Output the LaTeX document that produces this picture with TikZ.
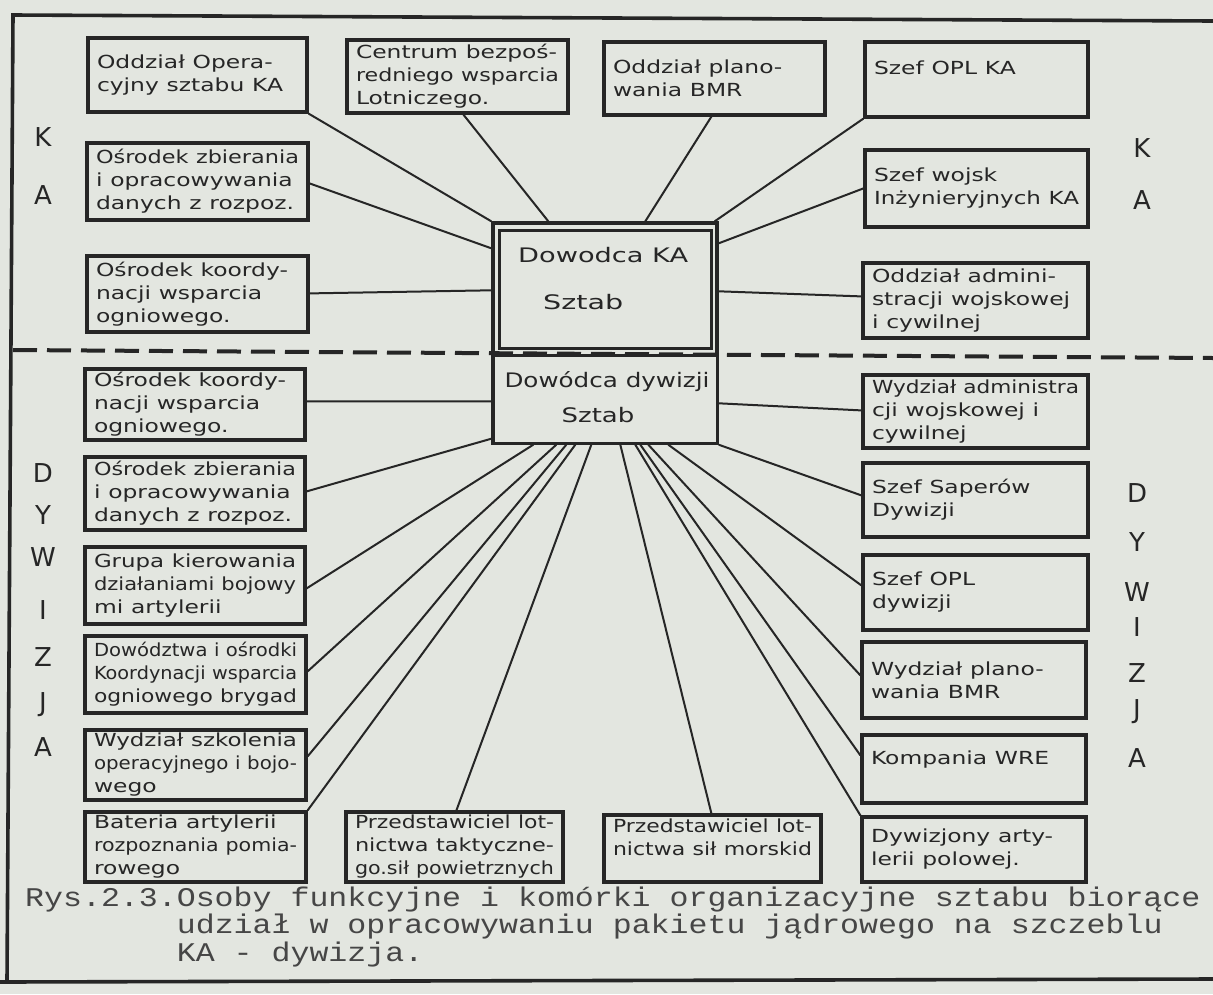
\documentclass[tikz,border=0pt]{standalone}
\usepackage{fontspec}
\usepackage{graphicx}
\setmainfont{DejaVu Sans}
\newfontfamily\handf{DejaVu Sans}
\newfontfamily\typef{Liberation Mono}
\definecolor{bg}{RGB}{227,230,224}
\definecolor{ink}{RGB}{38,38,38}
\definecolor{typeink}{RGB}{70,70,70}
\newsavebox\fitbox
\def\maxw{200}
\newcommand\fl[1]{\sbox\fitbox{#1}\scalebox{\fpeval{min(1.3,\maxw/(\the\wd\fitbox))}}[1]{\usebox\fitbox}}
\newcommand\sx[2]{\scalebox{#1}[1]{#2}}
\tikzset{
  orgbox/.style={draw=ink, line width=3.2pt, inner xsep=9pt, inner ysep=3pt, align=left,
    font=\handf\fontsize{18}{23}\selectfont, text=ink},
  linkline/.style={draw=ink, line width=2pt},
  sidelet/.style={font=\handf\fontsize{26}{26}\selectfont, text=ink, inner sep=0pt},
  framelin/.style={draw=ink, line width=3.6pt},
  sepline/.style={draw=ink, line width=4pt, dash pattern=on 24pt off 10pt},
  captext/.style={font=\typef\fontsize{27}{25.5}\selectfont, text=typeink, inner sep=0pt, anchor=north west, align=left},
  ctext/.style={font=\handf\fontsize{20}{20}\selectfont, text=ink, inner sep=0pt},
}
\newcommand\bx[6]{\edef\maxw{\fpeval{#4-#2-18}}\node[orgbox, minimum width=\fpeval{#4-#2}pt, minimum height=\fpeval{#5-#3}pt,
  text width=\fpeval{#4-#2-18}pt] (#1) at ({(#2+#4)/2},{(#3+#5)/2}) {#6};}
\begin{document}
\begin{tikzpicture}[x=1pt,y=-1pt]
\useasboundingbox (0,0) rectangle (1213,994);
\fill[bg] (0,0) rectangle (1213,994);
% frame
\coordinate (fa) at (13,15);
\coordinate (fb) at (1213,21);
\coordinate (fc) at (7,982);
\coordinate (fe) at (0,982);
\coordinate (fd) at (1213,979);
\draw[framelin] (fb) -- (fa) -- (fc);
\draw[framelin] (fe) -- (fd);
% separator
\coordinate (sa) at (13,350);
\coordinate (sb) at (1213,358);
\draw[sepline] (sa) -- (sb);
% central boxes
\node[draw=ink, line width=3.4pt, minimum width=224pt, minimum height=220pt] (cen) at (605,333) {};
\node[draw=ink, line width=3pt, minimum width=212pt, minimum height=118pt] (cka) at (605,289) {};
\node[draw=ink, line width=3pt, fill=bg, minimum width=224pt, minimum height=88pt] (cdy) at (605,399) {};
\node[ctext, anchor=west] (kat1) at (518,255) {\sx{1.36}{Dowodca KA}};
\node[ctext, anchor=west] (kat2) at (543,302) {\sx{1.43}{Sztab}};
\node[ctext] (dyt1) at (607,382) {\sx{1.23}{Dowódca dywizji}};
\node[ctext] (dyt2) at (598,415) {\sx{1.3}{Sztab}};
% top row
\bx{t1}{88}{38}{307}{112}{\fl{Oddział Opera-}\\\fl{cyjny sztabu KA}}
\bx{t2}{347}{40}{568}{113}{\fl{Centrum bezpoś-}\\\fl{redniego wsparcia}\\\fl{Lotniczego.}}
\bx{t3}{604}{42}{825}{115}{\fl{Oddział plano-}\\\fl{wania BMR}}
\bx{t4}{865}{42}{1088}{117}{\fl{Szef OPL KA}\\\mbox{}}
% upper sides
\bx{l1}{87}{143}{308}{220}{\fl{Ośrodek zbierania}\\\fl{i opracowywania}\\\fl{danych z rozpoz.}}
\bx{l2}{87}{256}{308}{332}{\fl{Ośrodek koordy-}\\\fl{nacji wsparcia}\\\fl{ogniowego.}}
\bx{r1}{865}{150}{1088}{227}{\fl{Szef wojsk}\\\fl{Inżynieryjnych KA}}
\bx{r2}{863}{263}{1088}{338}{\fl{Oddział admini-}\\\fl{stracji wojskowej}\\\fl{i cywilnej}}
% lower left
\bx{l3}{85}{369}{305}{440}{\fl{Ośrodek koordy-}\\\fl{nacji wsparcia}\\\fl{ogniowego.}}
\bx{l4}{85}{457}{305}{530}{\fl{Ośrodek zbierania}\\\fl{i opracowywania}\\\fl{danych z rozpoz.}}
\bx{l5}{85}{547}{305}{624}{\fl{Grupa kierowania}\\\fl{działaniami bojowy}\\\fl{mi artylerii}}
\bx{l6}{85}{636}{306}{713}{\fl{Dowództwa i ośrodki}\\\fl{Koordynacji wsparcia}\\\fl{ogniowego brygad}}
\bx{l7}{85}{730}{306}{800}{\fl{Wydział szkolenia}\\\fl{operacyjnego i bojo-}\\\fl{wego}}
\bx{l8}{85}{812}{306}{882}{\fl{Bateria artylerii}\\\fl{rozpoznania pomia-}\\\fl{rowego}}
% bottom row
\bx{b1}{346}{812}{563}{882}{\fl{Przedstawiciel lot-}\\\fl{nictwa taktyczne-}\\\fl{go.sił powietrznych}}
\bx{b2}{604}{815}{821}{882}{\fl{Przedstawiciel lot-}\\\fl{nictwa sił morskid}\\\mbox{}}
% lower right
\bx{r3}{863}{375}{1088}{448}{\fl{Wydział administra}\\\fl{cji wojskowej i}\\\fl{cywilnej}}
\bx{r4}{863}{463}{1088}{537}{\fl{Szef Saperów}\\\fl{Dywizji}}
\bx{r5}{863}{555}{1088}{630}{\fl{Szef OPL}\\\fl{dywizji}}
\bx{r6}{862}{642}{1086}{718}{\fl{Wydział plano-}\\\fl{wania BMR}}
\bx{r7}{862}{735}{1086}{803}{\fl{Kompania WRE}\\\mbox{}}
\bx{r8}{862}{817}{1086}{882}{\fl{Dywizjony arty-}\\\fl{lerii polowej.}}
% connectors upper
\draw[linkline] (t1.south east) -- (cen.north west);
\draw[linkline] ([xshift=118pt]t2.south west) -- ([xshift=57pt]cen.north west);
\draw[linkline] ([xshift=109pt]t3.south west) -- ([xshift=154pt]cen.north west);
\draw[linkline] (t4.south west) -- ([xshift=-4pt]cen.north east);
\draw[linkline] ([yshift=-42pt]l1.north east) -- ([yshift=-27pt]cen.north west);
\draw[linkline] ([yshift=-39pt]l2.north east) -- ([yshift=-69pt]cen.north west);
\draw[linkline] ([yshift=-40pt]r1.north west) -- ([yshift=-22pt]cen.north east);
\draw[linkline] ([yshift=-35pt]r2.north west) -- ([yshift=-70pt]cen.north east);
% connectors lower
\draw[linkline] ([yshift=-34pt]l3.north east) -- ([yshift=-180pt]cen.north west);
\draw[linkline] ([yshift=-37pt]r3.north west) -- ([yshift=-182pt]cen.north east);
\draw[linkline] ([yshift=-36pt]l4.north east) -- ([yshift=6pt]cen.south west);
\draw[linkline] ([yshift=-34pt]r4.north west) -- (cen.south east);
\draw[linkline] ([yshift=-43pt]l5.north east) -- ([xshift=42pt]cen.south west);
\draw[linkline] ([yshift=-37pt]l6.north east) -- ([xshift=65pt]cen.south west);
\draw[linkline] ([yshift=-28pt]l7.north east) -- ([xshift=75pt]cen.south west);
\draw[linkline] (l8.north east) -- ([xshift=84pt]cen.south west);
\draw[linkline] ([xshift=112pt]b1.north west) -- ([xshift=100pt]cen.south west);
\draw[linkline] ([xshift=109pt]b2.north west) -- ([xshift=129pt]cen.south west);
\draw[linkline] (r8.north west) -- ([xshift=144pt]cen.south west);
\draw[linkline] ([yshift=-22pt]r7.north west) -- ([xshift=149pt]cen.south west);
\draw[linkline] ([yshift=-35pt]r6.north west) -- ([xshift=157pt]cen.south west);
\draw[linkline] ([yshift=-32pt]r5.north west) -- ([xshift=177pt]cen.south west);
% side letters
\node[sidelet] (kl1) at (43,137) {K};
\node[sidelet] (kl2) at (43,195) {A};
\node[sidelet] (kr1) at (1142,148) {K};
\node[sidelet] (kr2) at (1142,200) {A};
\node[sidelet] (dl1) at (43,473) {D};
\node[sidelet] (dl2) at (43,515) {Y};
\node[sidelet] (dl3) at (43,557) {W};
\node[sidelet] (dl4) at (43,610) {I};
\node[sidelet] (dl5) at (43,657) {Z};
\node[sidelet] (dl6) at (43,705) {J};
\node[sidelet] (dl7) at (43,747) {A};
\node[sidelet] (dr1) at (1137,493) {D};
\node[sidelet] (dr2) at (1137,542) {Y};
\node[sidelet] (dr3) at (1137,592) {W};
\node[sidelet] (dr4) at (1137,627) {I};
\node[sidelet] (dr5) at (1137,673) {Z};
\node[sidelet] (dr6) at (1137,712) {J};
\node[sidelet] (dr7) at (1137,758) {A};
% caption
\node[captext] (capt) at (25,887) {\sx{1.17}{\begin{tabular}{@{}l@{}}Rys.2.3.Osoby funkcyjne i komórki organizacyjne sztabu biorące\\
\phantom{Rys.2.3.}udział w opracowywaniu pakietu jądrowego na szczeblu\\
\phantom{Rys.2.3.}KA - dywizja.\end{tabular}}};
\end{tikzpicture}
\end{document}
